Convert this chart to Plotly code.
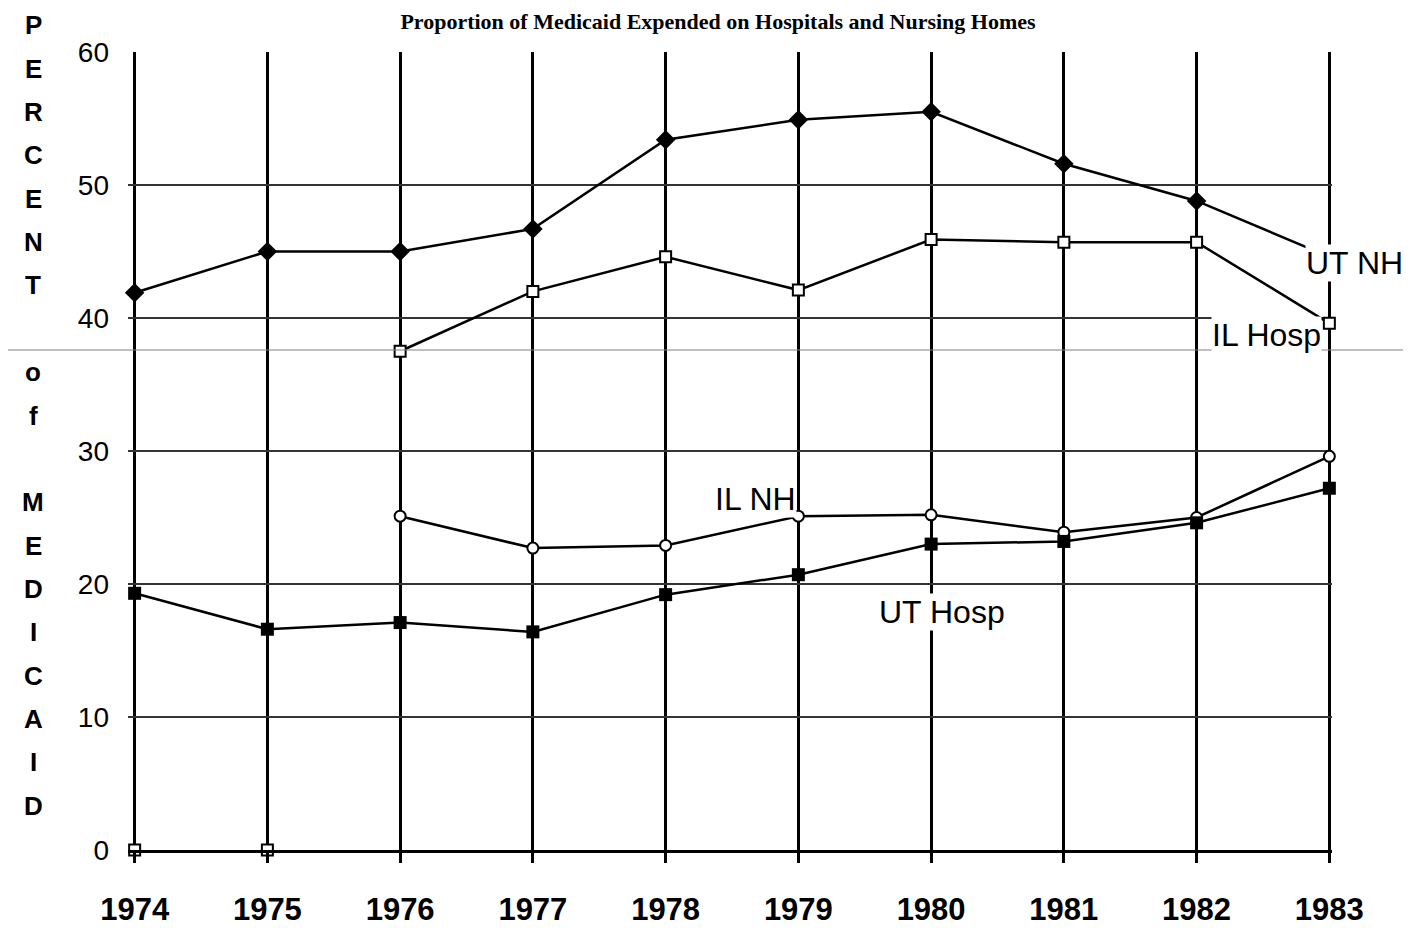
import plotly.graph_objects as go

years = [1974, 1975, 1976, 1977, 1978, 1979, 1980, 1981, 1982, 1983]
ut_nh = [41.9, 45.0, 45.0, 46.7, 53.4, 54.9, 55.5, 51.6, 48.8, 44.6]
il_hosp = [0, 0, 37.5, 42.0, 44.6, 42.1, 45.9, 45.7, 45.7, 39.6]
il_nh = [None, None, 25.1, 22.7, 22.9, 25.1, 25.2, 23.9, 25.0, 29.6]
ut_hosp = [19.3, 16.6, 17.1, 16.4, 19.2, 20.7, 23.0, 23.2, 24.6, 27.2]

y_ticks = [0, 10, 20, 30, 40, 50, 60]
title_text = "Proportion of Medicaid Expended on Hospitals and Nursing Homes"
axis_letters = ["P", "E", "R", "C", "E", "N", "T", "", "o", "f", "",
                "M", "E", "D", "I", "C", "A", "I", "D"]

# series labels: (text, x in years, y in percent)
series_labels = [
    ("UT NH", 1983.19, 44.1),
    ("IL Hosp", 1982.53, 38.7),
    ("IL NH", 1978.68, 26.4),
    ("UT Hosp", 1980.08, 17.9),
]

SANS = "Liberation Sans, Arial, sans-serif"
SERIF = "Liberation Serif, Times New Roman, serif"

X_RANGE = [1973.95, 1983.02]
OFF = 8                      # default page margin of the html body
FIG_W, FIG_H = 1411 - OFF, 939 - OFF
L, T, W, H = 128 - OFF, 52 - OFF, 1204, 806


def px_x(px):
    return (px - OFF - L) / W


def px_y(py):
    return (T + H - (py - OFF)) / H


fig = go.Figure()
line_style = dict(color="black", width=2.5)

fig.add_trace(go.Scatter(
    x=years, y=ut_nh, mode="lines+markers", line=line_style,
    marker=dict(symbol="diamond", size=15, color="black"),
    cliponaxis=False, showlegend=False))

fig.add_trace(go.Scatter(
    x=years, y=[v if v > 0 else None for v in il_hosp], mode="lines",
    line=line_style, cliponaxis=False, showlegend=False))
fig.add_trace(go.Scatter(
    x=years, y=il_hosp, mode="markers",
    marker=dict(symbol="square", size=11, color="white",
                line=dict(color="black", width=2)),
    cliponaxis=False, showlegend=False))

fig.add_trace(go.Scatter(
    x=years, y=il_nh, mode="lines+markers", line=line_style,
    marker=dict(symbol="circle", size=11, color="white",
                line=dict(color="black", width=2)),
    cliponaxis=False, showlegend=False))

fig.add_trace(go.Scatter(
    x=years, y=ut_hosp, mode="lines+markers", line=line_style,
    marker=dict(symbol="square", size=13, color="black"),
    cliponaxis=False, showlegend=False))

annotations = []
for text, x, y in series_labels:
    annotations.append(dict(
        text=text, xref="paper", yref="paper",
        x=(x - X_RANGE[0]) / (X_RANGE[1] - X_RANGE[0]), y=y / 60,
        showarrow=False, xanchor="center", yanchor="middle",
        font=dict(family=SANS, size=32, color="black"),
        bgcolor="white", borderpad=0))

for i, ch in enumerate(axis_letters):
    if not ch:
        continue
    annotations.append(dict(
        text=ch, x=px_x(33), y=px_y(25 + i * 43.8), xref="paper", yref="paper",
        showarrow=False, xanchor="center", yanchor="middle",
        font=dict(family=SANS, size=26, color="black", weight="bold")))

fig.update_layout(
    width=FIG_W, height=FIG_H,
    margin=dict(l=L, r=FIG_W - L - W, t=T, b=FIG_H - T - H),
    paper_bgcolor="white", plot_bgcolor="white",
    title=dict(text=title_text, x=px_x(718), xref="paper", xanchor="center",
               y=1 - (21 - OFF) / FIG_H, yref="container", yanchor="middle",
               font=dict(family=SERIF, size=22, color="black", weight="bold")),
    annotations=annotations,
    shapes=[dict(type="line", xref="paper", yref="paper",
                 x0=px_x(0), x1=px_x(1411), y0=px_y(353), y1=px_y(353),
                 line=dict(color="#808080", width=1))],
    xaxis=dict(
        range=X_RANGE, tickmode="array", tickvals=years,
        ticktext=[str(y) for y in years],
        showgrid=True, gridcolor="black", gridwidth=3,
        ticks="outside", ticklen=10, tickwidth=3, tickcolor="black",
        showline=True, linecolor="black", linewidth=2.5,
        zeroline=False, ticklabelstandoff=20,
        tickfont=dict(family=SANS, size=31, color="black", weight="bold")),
    yaxis=dict(
        range=[0, 60], tickmode="array", tickvals=y_ticks,
        showgrid=True, gridcolor="#333333", gridwidth=1.5,
        zeroline=False, showline=False, ticks="", ticklabelstandoff=18,
        tickfont=dict(family=SANS, size=28, color="black")),
)

fig.write_html("out.html")
